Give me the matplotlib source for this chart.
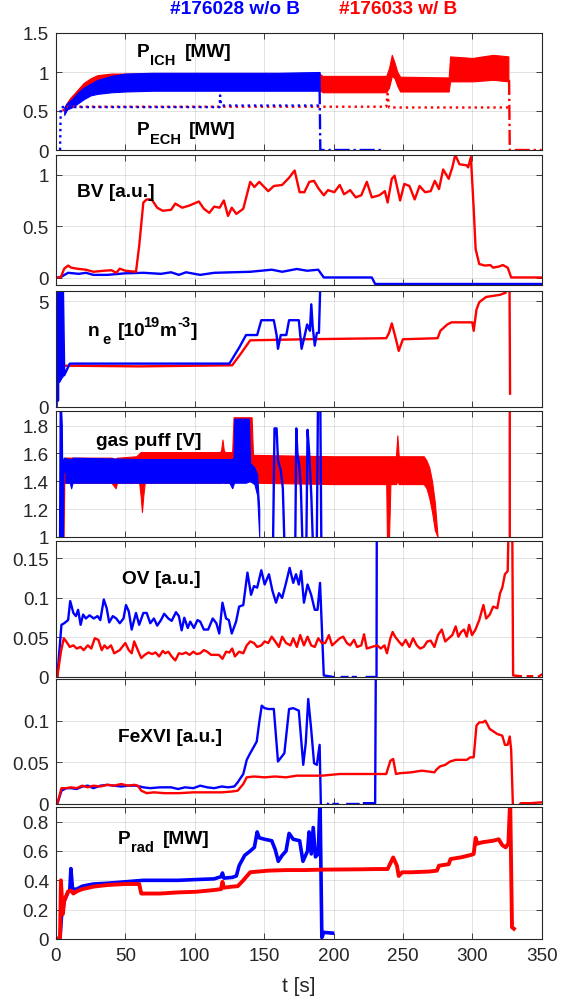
import numpy as np
import matplotlib
matplotlib.use('Agg')
import matplotlib.pyplot as plt
from matplotlib.ticker import FuncFormatter

plt.rcParams['font.family'] = ['Liberation Sans', 'DejaVu Sans']

BLUE = '#0000ff'
RED = '#ff0000'
nan = np.nan

title_blue = '#176028 w/o B'
title_red = '#176033 w/ B'
x_ticks = [0, 50, 100, 150, 200, 250, 300, 350]

# ---------------- Panel 1: P_ICH (bands) and P_ECH (dotted) ----------------
pich_b_t = [6, 8, 12, 16, 20, 25, 30, 40, 50, 70, 100, 130, 160, 190]
pich_b_lo = [0.45, 0.52, 0.55, 0.60, 0.65, 0.70, 0.72, 0.74, 0.75, 0.76, 0.76, 0.76, 0.76, 0.76]
pich_b_hi = [0.55, 0.60, 0.66, 0.74, 0.80, 0.85, 0.90, 0.95, 0.98, 0.99, 0.99, 0.99, 0.99, 1.00]
pich_b_tail_t = [190, 190.5, 235]
pich_b_tail_y = [0.78, 0.0, 0.0]

pich_r_t = [7, 10, 15, 20, 25, 30, 40, 60, 100, 190, 192, 238, 240, 242, 244, 246, 248, 283, 284, 300, 315, 326]
pich_r_lo = [0.50, 0.56, 0.62, 0.68, 0.72, 0.75, 0.77, 0.77, 0.77, 0.77, 0.74, 0.74, 0.80, 0.95, 0.92, 0.82, 0.75, 0.75, 0.88, 0.88, 0.90, 0.88]
pich_r_hi = [0.58, 0.66, 0.76, 0.86, 0.92, 0.96, 0.98, 0.98, 0.98, 0.98, 0.95, 0.95, 1.05, 1.22, 1.12, 1.00, 0.94, 0.93, 1.20, 1.18, 1.22, 1.20]
pich_r_tail_t = [326.5, 327, 350]
pich_r_tail_y = [0.9, 0.0, 0.0]

pech_b_t = [3, 3.5, 118, 118.3, 119, 190]
pech_b_y = [0.0, 0.55, 0.55, 0.70, 0.57, 0.57]
pech_r_t = [5, 7, 238, 239, 240, 327]
pech_r_y = [0.50, 0.555, 0.555, 0.72, 0.545, 0.545]

# ---------------- Panel 2: BV ----------------
bv_r_t = [0, 3.6, 6, 8.8, 11, 15, 21.6, 27, 34.5, 40, 43.5, 46, 50, 57.7, 60, 63, 65.4, 69, 73, 77, 83, 86, 91, 96,
          103, 106.6, 110.5, 114, 118, 121, 124, 126.7, 130, 135, 140, 143, 146.5, 153, 157, 163, 168, 172, 175.6,
          179, 182.6, 186, 189, 193, 196, 200.6, 204.5, 207.6, 212, 216, 220, 224, 227.6, 233, 237, 239, 242, 244,
          248, 251, 254.7, 258.5, 262, 266, 270, 273, 276, 279, 283, 285.6, 287.7, 290.8, 296, 297, 299, 301, 302.4,
          305, 309, 313, 315, 319, 322, 325.5, 328, 350]
bv_r_y = [0.0, 0.01, 0.09, 0.12, 0.10, 0.09, 0.08, 0.06, 0.07, 0.075, 0.05, 0.09, 0.07, 0.06, 0.31, 0.73, 0.76, 0.76,
          0.68, 0.65, 0.66, 0.72, 0.68, 0.70, 0.74, 0.67, 0.63, 0.69, 0.68, 0.75, 0.60, 0.68, 0.62, 0.67, 0.93, 0.88,
          0.93, 0.84, 0.89, 0.90, 0.97, 1.04, 0.83, 0.83, 0.93, 0.94, 0.87, 0.80, 0.85, 0.83, 0.90, 0.81, 0.85, 0.78,
          0.80, 0.93, 0.78, 0.80, 0.84, 0.73, 0.96, 0.99, 0.75, 0.91, 0.89, 0.76, 0.89, 0.83, 0.84, 0.94, 0.86, 1.05,
          0.96, 1.07, 1.19, 1.10, 1.09, 1.07, 1.17, 0.67, 0.28, 0.135, 0.12, 0.125, 0.10, 0.11, 0.125, 0.10, 0.005, 0.005]
bv_b_t = [0, 3.6, 8.8, 16.5, 21.6, 27, 37, 50, 63, 75.7, 83, 88.6, 93.7, 104, 114, 127, 140, 155.5, 163, 173.6, 181,
          189, 193, 227.6, 230, 350]
bv_b_y = [0.0, 0.01, 0.05, 0.04, 0.05, 0.03, 0.03, 0.045, 0.05, 0.04, 0.055, 0.03, 0.055, 0.03, 0.05, 0.055, 0.06,
          0.08, 0.06, 0.087, 0.07, 0.08, 0.005, 0.005, -0.058, -0.058]

# ---------------- Panel 3: n_e ----------------
ne_r_t = [0, 1, 3, 5, 10, 60, 100, 127, 133, 140, 180, 238, 240, 242, 245, 247, 250, 275, 277, 282, 285, 300, 301,
          303, 305, 310, 320, 324, nan, 326.8, 327.2]
ne_r_y = [0.0, 1.6, 1.9, 1.95, 1.95, 1.92, 1.95, 1.97, 2.5, 3.15, 3.2, 3.25, 3.5, 3.95, 3.2, 2.65, 3.2, 3.25, 3.6,
          3.9, 4.0, 4.0, 3.6, 4.6, 4.95, 5.2, 5.3, 5.4, nan, 6.0, 0.63]
ne_b_t = [0.5, 1, 1.5, 2, 2.5, 3, 3.5, 4, 4.5, 5, 6, 10, 60, 125, 132, 137, 145, 148, 157, 159, 160, 162, 166, 168,
          175, 177, 179, 181, 183, 184, 185, 186.5, 188, 189.5, 190.5]
ne_b_y = [0.0, 5.8, 0.3, 5.8, 1.2, 5.8, 1.3, 5.8, 1.4, 5.8, 1.5, 2.05, 2.05, 2.05, 2.8, 3.4, 3.4, 4.1, 4.1, 3.4,
          2.75, 3.4, 3.4, 4.1, 4.1, 2.75, 3.3, 3.9, 3.6, 4.85, 3.8, 2.9, 3.5, 3.5, 5.8]

# ---------------- Panel 4: gas puff (bands + spikes) ----------------
gp_b_t = [5.5, 10, 11, 12, 60, 100, 125, 127, 128, 128.5, 137, 139, 140, 143, 145, 146.5]
gp_b_lo = [1.39, 1.39, 1.35, 1.39, 1.39, 1.39, 1.39, 1.35, 1.38, 1.39, 1.39, 1.40, 1.40, 1.38, 1.30, 1.0]
gp_b_hi = [1.57, 1.56, 1.56, 1.57, 1.56, 1.56, 1.56, 1.56, 1.57, 1.85, 1.85, 1.85, 1.53, 1.50, 1.45, 1.2]
gp_b_line_t = [3, 3.5, 4.2, 4.8, 5.5, nan, 156.5, 157.5, 159, 160, 162, 163.5, 164.5, nan, 172.5, 173.2, 174, 175.5,
               176.5, 177.5, nan, 180.5, 181.3, 182.5, 184, 185, nan, 188, 188.8, 190.5, 191.2]
gp_b_line_y = [1.0, 1.95, 1.8, 1.0, 1.55, nan, 1.0, 1.78, 1.78, 1.55, 1.48, 1.35, 1.0, nan, 1.0, 1.78, 1.6, 1.5,
               1.35, 1.0, nan, 1.0, 1.77, 1.6, 1.3, 1.0, nan, 1.0, 1.95, 1.95, 1.0]
gp_r_t = [6, 20, 40, 43, 44, 45, 58, 60, 61, 62, 63, 64, 118, 119, 120, 121, 122, 127, 128, 141, 142, 200, 237, 238,
          238.5, 240, 241, 244, 245, 246, 247, 248, 265, 267, 269, 271, 273, 275]
gp_r_lo = [1.39, 1.39, 1.39, 1.35, 1.39, 1.39, 1.39, 1.39, 1.30, 1.18, 1.30, 1.39, 1.39, 1.39, 1.40, 1.39, 1.39, 1.39,
           1.40, 1.40, 1.39, 1.38, 1.38, 1.38, 1.0, 1.0, 1.38, 1.38, 1.38, 1.40, 1.38, 1.38, 1.38, 1.35, 1.28, 1.18,
           1.05, 1.0]
gp_r_hi = [1.57, 1.57, 1.57, 1.56, 1.57, 1.57, 1.58, 1.60, 1.61, 1.61, 1.61, 1.61, 1.61, 1.62, 1.70, 1.62, 1.61, 1.61,
           1.86, 1.86, 1.59, 1.58, 1.58, 1.58, 1.58, 1.58, 1.58, 1.58, 1.58, 1.73, 1.58, 1.58, 1.58, 1.55, 1.50, 1.40,
           1.25, 1.0]
gp_r_line_t = [4, 5.5, 6, nan, 327, 327]
gp_r_line_y = [1.0, 1.0, 1.45, nan, 0.9, 2.0]

# ---------------- Panel 5: OV ----------------
ov_b_t = [1, 4, 6, 8.8, 10.3, 12.6, 14.4, 16, 17.8, 19.6, 21.6, 24.2, 27.3, 30, 32, 34.5, 36.6, 38.4, 41, 43.5, 46,
          48.7, 50.5, 52.5, 54.6, 57.7, 60, 63, 65.4, 68, 70.6, 73, 75.7, 78, 81, 83.4, 86.5, 88.6, 90.6, 92.5, 95,
          96.8, 99.4, 102, 104, 106.6, 109.7, 113, 115.6, 117.7, 120, 122.6, 124.6, 126.7, 129.8, 132, 135, 138,
          140.6, 142.7, 145, 148, 150.4, 153.5, 156, 158.6, 160.7, 163, 165.8, 168.4, 171, 173, 175, 176.7, 178.7,
          181.3, 183.9, 186.5, 188.5, 190.3, 193, 200, nan, 206, 210, nan, 214, 216, nan, 224, 231, 231.5]
ov_b_y = [0.0, 0.066, 0.068, 0.072, 0.096, 0.081, 0.077, 0.085, 0.066, 0.079, 0.074, 0.078, 0.074, 0.077, 0.072,
          0.098, 0.087, 0.069, 0.077, 0.074, 0.068, 0.074, 0.091, 0.083, 0.060, 0.081, 0.066, 0.081, 0.081, 0.068,
          0.074, 0.065, 0.072, 0.080, 0.074, 0.071, 0.082, 0.077, 0.059, 0.075, 0.062, 0.070, 0.062, 0.072, 0.070,
          0.060, 0.060, 0.074, 0.068, 0.055, 0.094, 0.074, 0.072, 0.055, 0.070, 0.089, 0.091, 0.132, 0.104, 0.115,
          0.113, 0.135, 0.117, 0.130, 0.109, 0.094, 0.106, 0.100, 0.119, 0.138, 0.119, 0.130, 0.117, 0.134, 0.094,
          0.117, 0.104, 0.085, 0.085, 0.119, 0.002, 0.0, nan, 0.0, 0.0, nan, 0.0, 0.0, nan, 0.0, 0.0, 0.5]
ov_r_t = [1, 3.6, 5.7, 8.2, 10, 12.6, 15, 17.8, 20, 23, 25.5, 28, 30.6, 33, 35, 37, 39.7, 42, 46, 50, 52.5, 54.6,
          56.4, 59, 61.5, 64, 66.7, 69.3, 71.8, 74.4, 77, 78.8, 81, 83.4, 86, 88.6, 91, 93.7, 96.3, 99, 101.5, 104,
          106.6, 109, 111.8, 114.3, 117.4, 120, 122.6, 125, 127, 129, 132, 135, 137.5, 140, 142.7, 145, 148, 150.4,
          153, 155.5, 158, 160.7, 163, 165.8, 169, 171, 173.6, 176, 178.7, 181.3, 183.9, 186.5, 189, 191.6, 194,
          196.7, 199, 202, 204.5, 207, 209.6, 212, 214.8, 217, 220, 222, 224, 227.6, 231.5, 234, 236.7, 238.5, 241,
          242.6, 244.4, 247, 249.5, 252, 254.7, 257.3, 260, 262.4, 265, 267.6, 270, 272.7, 275.3, 278, 280.5, 283,
          285.6, 288, 290, 292, 294, 296, 297.7, 299.8, 302.3, 305, 308, 310, 312.6, 315, 318, 320, 321.6, 323.5,
          325.5, 326.8, 328.6, 329.4, 335, nan, 340, 343, nan, 348, 350]
ov_r_y = [0.0, 0.032, 0.049, 0.043, 0.038, 0.040, 0.036, 0.038, 0.034, 0.040, 0.036, 0.049, 0.047, 0.034, 0.040,
          0.036, 0.040, 0.030, 0.034, 0.043, 0.034, 0.030, 0.045, 0.034, 0.024, 0.028, 0.031, 0.029, 0.031, 0.026,
          0.033, 0.030, 0.032, 0.026, 0.021, 0.030, 0.029, 0.031, 0.028, 0.032, 0.029, 0.030, 0.034, 0.032, 0.028,
          0.028, 0.028, 0.023, 0.032, 0.031, 0.036, 0.026, 0.032, 0.030, 0.040, 0.045, 0.043, 0.038, 0.040, 0.045,
          0.043, 0.051, 0.045, 0.038, 0.051, 0.043, 0.040, 0.049, 0.038, 0.053, 0.040, 0.051, 0.040, 0.038, 0.049,
          0.043, 0.043, 0.053, 0.040, 0.045, 0.049, 0.051, 0.043, 0.040, 0.047, 0.038, 0.040, 0.054, 0.036, 0.038,
          0.040, 0.036, 0.040, 0.030, 0.049, 0.057, 0.051, 0.045, 0.040, 0.047, 0.038, 0.049, 0.040, 0.036, 0.038,
          0.045, 0.046, 0.038, 0.053, 0.060, 0.045, 0.049, 0.053, 0.064, 0.051, 0.057, 0.060, 0.051, 0.066, 0.053,
          0.060, 0.072, 0.091, 0.074, 0.079, 0.089, 0.087, 0.106, 0.113, 0.130, 0.134, 0.25, 0.25, 0.002, 0.001,
          nan, 0.001, 0.001, nan, 0.001, 0.003]

# ---------------- Panel 6: FeXVI ----------------
fe_b_t = [1, 4, 7.5, 11, 15, 19, 23, 27, 32, 37, 42, 47, 52, 57.7, 63, 68, 75, 83, 88, 93, 99, 104, 109, 114, 119.5,
          124, 128.5, 131, 135, 137.5, 140, 142.7, 144.7, 146.5, 148.3, 150.4, 153, 157, 160, 164.6, 168, 171, 175,
          178.2, 180, 181.8, 183.9, 186, 188, 190, 191, 196, nan, 200, 203, nan, 210, 218, nan, 222, 230, 231.5]
fe_b_y = [0.0, 0.016, 0.019, 0.019, 0.018, 0.021, 0.022, 0.019, 0.022, 0.023, 0.022, 0.021, 0.022, 0.022, 0.020,
          0.019, 0.020, 0.020, 0.018, 0.020, 0.019, 0.022, 0.020, 0.019, 0.021, 0.020, 0.021, 0.026, 0.036, 0.053,
          0.061, 0.069, 0.075, 0.098, 0.118, 0.115, 0.114, 0.114, 0.051, 0.061, 0.114, 0.115, 0.112, 0.047, 0.073,
          0.126, 0.090, 0.049, 0.047, 0.071, -0.01, 0.0, nan, 0.0, 0.0, nan, 0.0, 0.0, nan, 0.001, 0.001, 0.5]
fe_r_t = [1, 4, 7.5, 11, 15, 19, 23, 27, 32, 37, 42, 47, 52, 56.4, 59, 61.5, 65.4, 70.6, 78.3, 88.6, 99, 109, 119.5,
          127, 131, 135, 137.5, 142.7, 150.4, 158, 165.8, 173.6, 181.3, 191.6, 204.5, 217, 230, 238, 241, 243, 245,
          248, 256, 263.7, 272.7, 274, 276.6, 280.5, 284, 288, 292, 296, 298.5, 301, 303, 305, 307.5, 309.4, 312.6,
          318, 321.6, 323.5, 325.5, 327, 328, 329.4, 335, 342, 350]
fe_r_y = [0.0, 0.019, 0.019, 0.020, 0.019, 0.022, 0.020, 0.022, 0.021, 0.023, 0.022, 0.024, 0.022, 0.023, 0.022,
          0.016, 0.013, 0.014, 0.013, 0.013, 0.014, 0.014, 0.014, 0.015, 0.016, 0.024, 0.032, 0.033, 0.032, 0.033,
          0.032, 0.034, 0.034, 0.034, 0.036, 0.036, 0.036, 0.036, 0.052, 0.054, 0.036, 0.037, 0.038, 0.040, 0.038,
          0.041, 0.045, 0.047, 0.051, 0.053, 0.053, 0.053, 0.056, 0.056, 0.094, 0.098, 0.098, 0.100, 0.090, 0.084,
          0.082, 0.071, 0.071, 0.081, 0.065, -0.01, 0.001, 0.001, 0.002]

# ---------------- Panel 7: P_rad ----------------
prad_b_t = [1, 3, 4, 6, 8.8, 10, 10.8, 12, 15, 19, 27, 37, 50, 63, 75, 88, 100, 114, 119, 120, 121, 127, 130, 132,
            136, 140, 143, 145, 146.5, 150.4, 155.5, 158, 160.2, 163, 165.8, 168, 171, 175.6, 178, 181.3, 182.4,
            184, 185.4, 187, 189, 190.3, 191.6, 193, 199.3]
prad_b_y = [0.0, 0.01, 0.15, 0.26, 0.32, 0.33, 0.48, 0.34, 0.34, 0.36, 0.375, 0.38, 0.39, 0.40, 0.40, 0.40, 0.405,
            0.41, 0.425, 0.45, 0.415, 0.42, 0.43, 0.50, 0.57, 0.60, 0.625, 0.73, 0.69, 0.68, 0.67, 0.61, 0.53, 0.57,
            0.60, 0.72, 0.68, 0.67, 0.53, 0.60, 0.73, 0.58, 0.76, 0.56, 0.58, 0.95, 0.01, 0.045, 0.04]
prad_r_t = [1, 3, 3.6, 5, 6, 8.8, 11, 12.6, 15, 19, 27, 37, 50, 60, 61.5, 75, 88.6, 101, 114, 119, 120, 121, 127,
            131, 135, 140, 153, 166, 179, 192, 205, 218, 231, 239, 243, 245.7, 247, 249.5, 256, 269, 274.5, 276,
            283, 284.3, 292, 299.8, 301, 302.4, 303.6, 307.5, 315, 319, 321.6, 324, 326, 327.3, 328.6, 330]
prad_r_y = [0.0, 0.01, 0.40, 0.17, 0.26, 0.325, 0.33, 0.31, 0.325, 0.34, 0.357, 0.368, 0.375, 0.375, 0.31, 0.31,
            0.318, 0.322, 0.334, 0.34, 0.39, 0.35, 0.357, 0.36, 0.40, 0.455, 0.466, 0.47, 0.47, 0.473, 0.474, 0.475,
            0.477, 0.477, 0.556, 0.50, 0.43, 0.455, 0.455, 0.46, 0.466, 0.50, 0.51, 0.545, 0.557, 0.575, 0.58, 0.69,
            0.65, 0.66, 0.67, 0.68, 0.64, 0.625, 0.65, 0.95, 0.08, 0.07]

# ---------------- Layout ----------------
W, H = 561, 1004
fig = plt.figure(figsize=(W / 100, H / 100), dpi=100)

left_px, right_px = 55.9, 541.7
panels_px = [(34, 151), (156, 286), (292, 408), (412, 538), (542, 678), (680, 805), (808, 940)]
ylims = [(0, 1.5), (-0.068, 1.19), (0, 5.48), (1, 1.905), (0, 0.172), (0, 0.15), (0, 0.9)]
yticks = [[0, 0.5, 1, 1.5], [0, 0.5, 1], [0, 5], [1, 1.2, 1.4, 1.6, 1.8], [0, 0.05, 0.1, 0.15],
          [0, 0.05, 0.1], [0, 0.2, 0.4, 0.6, 0.8]]

TXT = '#262626'
fmt = FuncFormatter(lambda v, p: ('%g' % round(v, 4)))

axes = []
for i, (top, bot) in enumerate(panels_px):
    ax = fig.add_axes([left_px / W, 1 - bot / H, (right_px - left_px) / W, (bot - top) / H])
    ax.set_xlim(0, 350)
    ax.set_ylim(*ylims[i])
    ax.set_xticks(x_ticks)
    ax.set_yticks(yticks[i])
    ax.yaxis.set_major_formatter(fmt)
    ax.grid(True, color='#000000', alpha=0.13, linewidth=0.6)
    ax.set_axisbelow(True)
    ax.tick_params(direction='in', length=4, width=0.6, top=True, right=True, colors=TXT,
                   labelsize=13.6, labelcolor=TXT)
    ax.tick_params(axis='y', pad=5)
    ax.tick_params(axis='x', pad=6)
    for s in ax.spines.values():
        s.set_color(TXT)
        s.set_linewidth(0.8)
    if i < len(panels_px) - 1:
        ax.tick_params(labelbottom=False)
    axes.append(ax)

LW = 1.7

# Panel 1
ax = axes[0]
ax.fill_between(pich_r_t, pich_r_lo, pich_r_hi, color=RED, linewidth=0.8, edgecolor=RED)
ax.plot(pich_r_tail_t, pich_r_tail_y, color=RED, lw=LW, ls='-.')
ax.plot(pech_r_t, pech_r_y, color=RED, lw=LW, ls=':')
ax.fill_between(pich_b_t, pich_b_lo, pich_b_hi, color=BLUE, linewidth=0.8, edgecolor=BLUE)
ax.plot(pich_b_tail_t, pich_b_tail_y, color=BLUE, lw=LW, ls='-.')
ax.plot(pech_b_t, pech_b_y, color=BLUE, lw=LW, ls=':')

# Panel 2
ax = axes[1]
ax.plot(bv_b_t, bv_b_y, color=BLUE, lw=LW)
ax.plot(bv_r_t, bv_r_y, color=RED, lw=LW)

# Panel 3
ax = axes[2]
ax.plot(ne_r_t, ne_r_y, color=RED, lw=LW)
ax.plot(ne_b_t, ne_b_y, color=BLUE, lw=LW)

# Panel 4
ax = axes[3]
ax.fill_between(gp_r_t, gp_r_lo, gp_r_hi, color=RED, linewidth=0.8, edgecolor=RED)
ax.plot(gp_r_line_t, gp_r_line_y, color=RED, lw=LW)
ax.fill_between(gp_b_t, gp_b_lo, gp_b_hi, color=BLUE, linewidth=0.8, edgecolor=BLUE)
ax.plot(gp_b_line_t, gp_b_line_y, color=BLUE, lw=LW)

# Panel 5
ax = axes[4]
ax.plot(ov_b_t, ov_b_y, color=BLUE, lw=LW)
ax.plot(ov_r_t, ov_r_y, color=RED, lw=LW)

# Panel 6
ax = axes[5]
ax.plot(fe_b_t, fe_b_y, color=BLUE, lw=LW)
ax.plot(fe_r_t, fe_r_y, color=RED, lw=LW)

# Panel 7
ax = axes[6]
ax.plot(prad_b_t, prad_b_y, color=BLUE, lw=2.6)
ax.plot(prad_r_t, prad_r_y, color=RED, lw=2.8)

# Text helpers (pixel positions -> figure fraction, baseline anchored)
def ptext(xp, yp, s, size=13.8, color='black', ha='left'):
    fig.text(xp / W, 1 - yp / H, s, fontsize=size, fontweight='bold', color=color, va='baseline', ha=ha)

BIG, SUB = 13.8, 10.5
# P_ICH [MW]
ptext(137, 57, 'P', BIG); ptext(150, 65, 'ICH', SUB); ptext(185, 57, '[MW]', BIG)
# P_ECH [MW]
ptext(137, 135, 'P', BIG); ptext(150, 143.5, 'ECH', SUB); ptext(189, 135, '[MW]', BIG)
# BV
ptext(77, 197, 'BV [a.u.]', BIG)
# n_e [10^19 m^-3]
ptext(88, 336, 'n', BIG); ptext(102.5, 343.5, 'e', SUB); ptext(117.5, 336, '[10', BIG)
ptext(143.5, 327, '19', SUB); ptext(159.5, 336, 'm', BIG); ptext(177, 327, '-3', SUB); ptext(191, 336, ']', BIG)
# gas puff
ptext(96, 446, 'gas puff [V]', BIG)
# OV
ptext(122, 584, 'OV [a.u.]', BIG)
# FeXVI
ptext(118, 742, 'FeXVI [a.u.]', BIG)
# P_rad [MW]
ptext(118, 844.5, 'P', BIG); ptext(130.5, 852.5, 'rad', SUB); ptext(162.5, 844.5, '[MW]', BIG)

# titles
ptext(235, 13.5, title_blue, 13.7, color=BLUE, ha='center')
ptext(398, 13.5, title_red, 13.7, color=RED, ha='center')

# x label
fig.text((left_px + right_px) / 2 / W, 1 - 992 / H, 't [s]', fontsize=15, color=TXT, ha='center', va='baseline')

fig.savefig('out.png', dpi=100, facecolor='white')
